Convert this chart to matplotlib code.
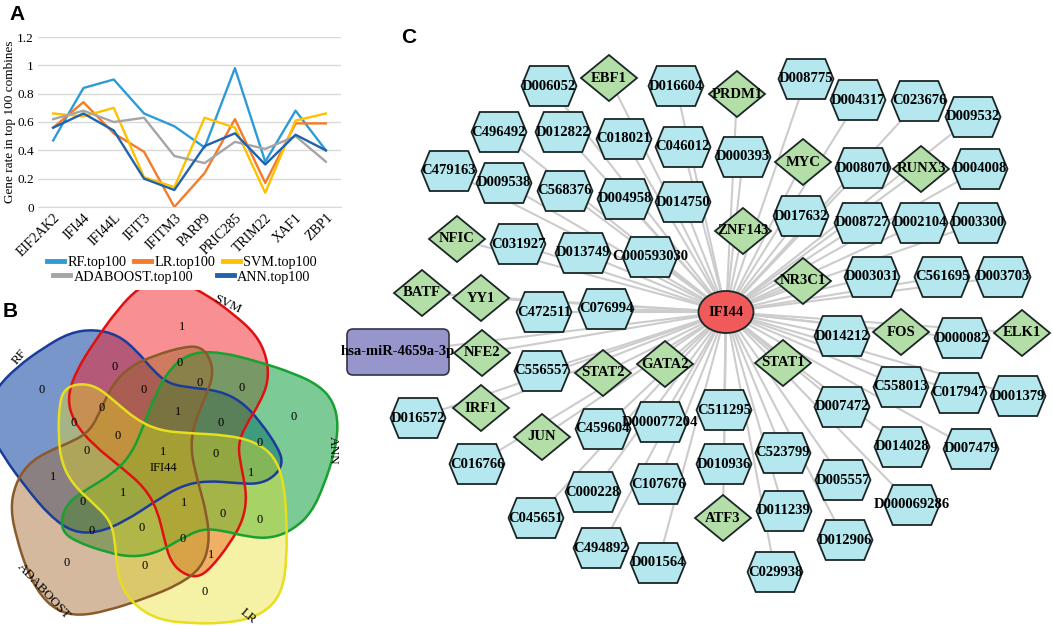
import numpy as np
import matplotlib
matplotlib.use('Agg')
import matplotlib.pyplot as plt
from matplotlib.path import Path
from matplotlib.patches import PathPatch, Polygon, Ellipse, FancyBboxPatch
from matplotlib.lines import Line2D

plt.rcParams['font.family'] = ['Liberation Serif', 'DejaVu Serif']

W, H = 1052, 626

# ---------------- panel A data ----------------
genes = ['EIF2AK2', 'IFI44', 'IFI44L', 'IFIT3', 'IFITM3', 'PARP9',
         'PRIC285', 'TRIM22', 'XAF1', 'ZBP1']
rf_top = [0.47, 0.84, 0.90, 0.66, 0.57, 0.42, 0.98, 0.32, 0.68, 0.40]
lr_top = [0.56, 0.74, 0.52, 0.39, 0.00, 0.24, 0.62, 0.17, 0.59, 0.59]
svm_top = [0.66, 0.64, 0.70, 0.21, 0.14, 0.63, 0.56, 0.10, 0.61, 0.66]
ada_top = [0.62, 0.68, 0.60, 0.63, 0.36, 0.31, 0.46, 0.41, 0.50, 0.32]
ann_top = [0.56, 0.66, 0.54, 0.20, 0.12, 0.43, 0.52, 0.30, 0.51, 0.40]
yticks = [0, 0.2, 0.4, 0.6, 0.8, 1.0, 1.2]
ytick_labels = ['0', '0.2', '0.4', '0.6', '0.8', '1', '1.2']

# ---------------- panel B data ----------------
venn_sets = ['LR', 'ANN', 'SVM', 'RF', 'ADABOOST']
venn_rot = [0, 72, 144, 216, 288]
# outline of the LR blob (panel-B units), other sets are rotations of it
blob_x = [178, 195, 240, 290, 340, 410, 480, 570, 680, 765, 825, 852, 860, 860,
          848, 815, 755, 670, 570, 480, 415, 368, 350, 345, 330, 280, 220, 185, 175]
blob_y = [340, 295, 280, 290, 330, 390, 422, 430, 435, 455, 500, 580, 690, 810,
          895, 950, 985, 1000, 1000, 990, 955, 900, 830, 750, 690, 640, 585, 520, 440]
venn_center = (485, 515)
region_vals = ['1', '0', '0', '0', '0', '0', '0', '0', '0', '1', '0', '0', '0', '0', '1',
               '0', '0', '1', '1', '1', '0', '1', '0', '0', '0', '0', '0', '1', '0', '0', '0']
region_x = [545, 345, 540, 125, 432, 600, 725, 880, 305, 535, 222, 352, 662, 778, 490,
            648, 260, 160, 752, 370, 248, 553, 668, 780, 275, 425, 548, 632, 200, 435, 615]
region_y = [110, 232, 218, 300, 300, 280, 293, 380, 355, 365, 400, 437, 400, 460, 487,
            492, 482, 560, 548, 610, 635, 640, 672, 690, 722, 715, 748, 795, 820, 828, 905]

# ---------------- panel C data ----------------
hub = ('IFI44', 726, 312)
mirna = ('hsa-miR-4659a-3p', 398, 352)
hex_names = ['D006052', 'D016604', 'D008775', 'D004317', 'C023676', 'D009532',
             'C496492', 'D012822', 'C018021', 'C046012', 'D000393', 'D008070', 'D004008',
             'C479163', 'D009538', 'C568376', 'D004958', 'D014750', 'D017632', 'D008727',
             'D002104', 'D003300', 'C031927', 'D013749', 'C000593030', 'D003031', 'C561695',
             'D003703', 'C472511', 'C076994', 'C556557', 'D014212', 'D000082', 'D016572',
             'C459604', 'D000077204', 'C511295', 'C558013', 'C017947', 'D001379', 'D007472',
             'C016766', 'C000228', 'C107676', 'D010936', 'C523799', 'D014028', 'D007479',
             'D005557', 'C045651', 'C494892', 'D001564', 'D011239', 'D000069286', 'D012906',
             'C029938']
hex_x = [549, 676, 806, 858, 919, 973,
         499, 563, 624, 683, 743, 863, 980,
         449, 504, 565, 625, 683, 801, 862,
         920, 978, 518, 583, 650, 872, 942,
         1003, 544, 606, 542, 842, 962, 418,
         603, 660, 724, 901, 959, 1018, 842,
         477, 593, 658, 724, 783, 902, 971,
         843, 536, 601, 658, 784, 912, 845,
         775]
hex_y = [86, 86, 79, 100, 101, 117,
         132, 132, 139, 147, 157, 168, 169,
         171, 183, 191, 199, 202, 216, 223,
         223, 223, 244, 253, 257, 277, 277,
         277, 312, 309, 371, 336, 338, 418,
         429, 422, 410, 387, 393, 396, 407,
         464, 492, 484, 464, 453, 447, 449,
         480, 518, 548, 563, 511, 505, 540,
         572]
tf_names = ['EBF1', 'PRDM1', 'MYC', 'RUNX3', 'ZNF143', 'NFIC', 'NR3C1', 'BATF', 'YY1',
            'NFE2', 'STAT2', 'GATA2', 'FOS', 'ELK1', 'STAT1', 'IRF1', 'JUN', 'ATF3']
tf_x = [609, 737, 803, 921, 743, 457, 803, 422, 481, 482, 603, 665, 901, 1022, 783, 481, 542, 723]
tf_y = [78, 94, 162, 169, 231, 239, 281, 293, 298, 353, 373, 364, 332, 333, 363, 408, 437, 518]


def px_axes(x0, y0, w, h):
    return fig.add_axes([x0 / W, 1 - (y0 + h) / H, w / W, h / H])


fig = plt.figure(figsize=(W / 100, H / 100), dpi=100)

# ================= A: line chart =================
ax = px_axes(38, 37, 303, 170)
series = [('RF.top100', rf_top, '#2E9BD6'), ('LR.top100', lr_top, '#F47B2A'),
          ('SVM.top100', svm_top, '#FFC000'), ('ADABOOST.top100', ada_top, '#A5A5A5'),
          ('ANN.top100', ann_top, '#1F62AE')]
xs = np.arange(len(genes))
for name, vals, col in series:
    ax.plot(xs, vals, color=col, lw=1.7, label=name, zorder=3)
ax.set_xlim(-0.5, len(genes) - 0.5)
ax.set_ylim(0, 1.2)
ax.set_yticks(yticks)
ax.set_yticklabels(ytick_labels, fontsize=9.5)
ax.yaxis.grid(True, color='#D9D9D9', lw=1)
ax.set_axisbelow(True)
for s in ['top', 'right', 'left']:
    ax.spines[s].set_visible(False)
ax.spines['bottom'].set_color('#D9D9D9')
ax.tick_params(axis='both', length=0, pad=3)
ax.set_xticks(xs)
ax.set_xticklabels(genes, rotation=45, ha='right', va='top', rotation_mode='anchor', fontsize=10)
ax.set_ylabel('Gene rate in top 100 combines', fontsize=9.5, labelpad=1)

h_row1 = [Line2D([], [], color=c, lw=3.5) for _, _, c in series[:3]]
h_row2 = [Line2D([], [], color=c, lw=3.5) for _, _, c in series[3:]]
leg1 = fig.legend(h_row1, [s[0] for s in series[:3]], loc='center', ncol=3,
                  bbox_to_anchor=(182 / W, 1 - 262 / H), frameon=False, fontsize=10.3,
                  handlelength=1.2, handletextpad=0.25, columnspacing=0.5,
                  borderpad=0, borderaxespad=0)
leg2 = fig.legend(h_row2, [s[0] for s in series[3:]], loc='center', ncol=2,
                  bbox_to_anchor=(182 / W, 1 - 277 / H), frameon=False, fontsize=10.3,
                  handlelength=1.2, handletextpad=0.25, columnspacing=1.6,
                  borderpad=0, borderaxespad=0)

# ================= B: five-set venn =================
axb = px_axes(0, 290, 340, 336)
axb.set_xlim(0, 1020)
axb.set_ylim(1008, 0)
axb.set_aspect('equal')
axb.axis('off')

venn_fill = {'RF': '#2050A8', 'SVM': '#F02028', 'ANN': '#10A040',
             'LR': '#E8E020', 'ADABOOST': '#A06428'}
venn_alpha = {'RF': 0.6, 'SVM': 0.5, 'ANN': 0.55, 'LR': 0.4, 'ADABOOST': 0.45}
venn_edge = {'RF': '#1C3C9C', 'SVM': '#E01010', 'ANN': '#18A030',
             'LR': '#E6DE1E', 'ADABOOST': '#8B5A2B'}


def blob_path(theta):
    cx, cy = venn_center
    t = np.deg2rad(theta)
    px = np.array(blob_x, float) - cx
    py = np.array(blob_y, float) - cy
    rx = cx + np.cos(t) * px + np.sin(t) * py
    ry = cy - np.sin(t) * px + np.cos(t) * py
    pts = np.column_stack([rx, ry])
    n = len(pts)
    mids = (pts + np.roll(pts, -1, axis=0)) / 2
    verts = [mids[-1]]
    codes = [Path.MOVETO]
    for i in range(n):
        verts += [pts[i], mids[i]]
        codes += [Path.CURVE3, Path.CURVE3]
    return Path(verts, codes)


draw_order = ['RF', 'SVM', 'ANN', 'ADABOOST', 'LR']
rot_of = dict(zip(venn_sets, venn_rot))
for s in draw_order:
    axb.add_patch(PathPatch(blob_path(rot_of[s]), facecolor=venn_fill[s],
                            alpha=venn_alpha[s], lw=0, zorder=1))
for s in draw_order:
    axb.add_patch(PathPatch(blob_path(rot_of[s]), facecolor='none',
                            edgecolor=venn_edge[s], lw=1.8, zorder=2))

for v, x, y in zip(region_vals, region_x, region_y):
    axb.text(x, y, v, ha='center', va='center', fontsize=9, zorder=3)
axb.text(490, 535, 'IFI44', ha='center', va='center', fontsize=9, zorder=3)

set_label_pos = {'SVM': (683, 42, -25), 'ANN': (1000, 482, -90), 'LR': (745, 978, -40),
                 'ADABOOST': (130, 905, -47), 'RF': (58, 200, 50)}
for s, (x, y, r) in set_label_pos.items():
    axb.text(x, y, s, ha='center', va='center', rotation=r, fontsize=9.5, zorder=3)

# ================= C: network =================
axc = px_axes(340, 0, 712, 626)
axc.set_xlim(340, 1052)
axc.set_ylim(626, 0)
axc.axis('off')

hub_name, hx, hy = hub
edge_col = '#CCCCCC'
for x, y in list(zip(hex_x, hex_y)) + list(zip(tf_x, tf_y)) + [mirna[1:]]:
    axc.plot([x, hx], [y, hy], color=edge_col, lw=1.5, zorder=1, solid_capstyle='butt')

node_edge = '#1B2626'
font_c = dict(ha='center', va='center', fontsize=10.5, fontweight='bold', zorder=4)
hw, hh = 55, 40
for name, x, y in zip(hex_names, hex_x, hex_y):
    pts = [(x - hw / 2, y), (x - 0.35 * hw, y - hh / 2), (x + 0.35 * hw, y - hh / 2),
           (x + hw / 2, y), (x + 0.35 * hw, y + hh / 2), (x - 0.35 * hw, y + hh / 2)]
    axc.add_patch(Polygon(pts, closed=True, facecolor='#B4E8EE', edgecolor=node_edge,
                          lw=1.3, zorder=2))
    axc.text(x, y, name, **font_c)

dw, dh = 56, 46
for name, x, y in zip(tf_names, tf_x, tf_y):
    pts = [(x - dw / 2, y), (x, y - dh / 2), (x + dw / 2, y), (x, y + dh / 2)]
    axc.add_patch(Polygon(pts, closed=True, facecolor='#B4DEA8', edgecolor=node_edge,
                          lw=1.3, zorder=2))
    axc.text(x, y, name, **font_c)

axc.add_patch(Ellipse((hx, hy), 55, 42, facecolor='#F05A5A', edgecolor=node_edge,
                      lw=1.3, zorder=2))
axc.text(hx, hy, hub_name, **font_c)

mname, mx, my = mirna
axc.add_patch(FancyBboxPatch((mx - 45, my - 17), 90, 34, boxstyle='round,pad=6',
                             facecolor='#9696CD', edgecolor='#333344', lw=1.2, zorder=2))
axc.text(mx, my, mname, **font_c)

# panel letters
for lab, x, y in [('A', 9, 5), ('B', 3, 302), ('C', 401, 28)]:
    fig.text(x / W, 1 - y / H, lab, ha='left', va='top', fontsize=15,
             fontweight='bold', family='Liberation Sans')

fig.savefig('out.png', dpi=100)
